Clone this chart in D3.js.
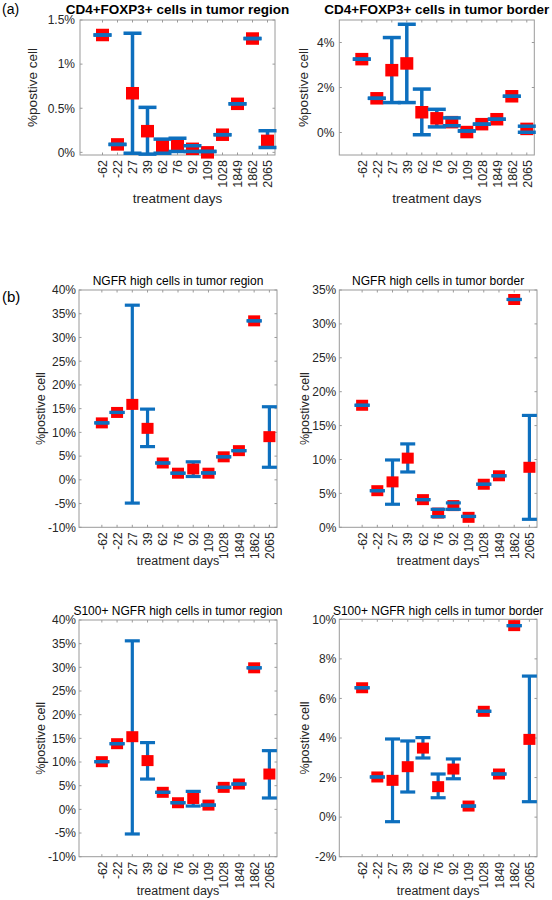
<!DOCTYPE html>
<html><head><meta charset="utf-8">
<script src="https://cdn.jsdelivr.net/npm/d3@7"></script>
<style>body{margin:0;background:#fff}svg{display:block}text{font-family:"Liberation Sans",Arial,Helvetica,sans-serif}</style>
</head><body>
<script>
// ---- data ----
const categories = ["-62","-22","27","39","62","76","92","109","1028","1849","1862","2065"];
const xLabel = "treatment days";
const yLabel = "%postive cell";

// (a) CD4+FOXP3+ region (%)
const aRegionMean  = [1.33,0.09,0.67,0.24,0.075,0.075,0.04,0.0,0.2,0.55,1.29,0.13];
const aRegionLow   = [1.33,0.09,-0.01,-0.02,-0.01,0.01,0.01,0.01,0.2,0.55,1.29,0.055];
const aRegionHigh  = [1.33,0.09,1.35,0.51,0.15,0.16,0.075,0.01,0.2,0.55,1.29,0.245];
const aRegionTicks = [0,0.5,1,1.5];
const aRegionTickLabels = ["0%","0.5%","1%","1.5%"];

// (a) CD4+FOXP3+ border (%)
const aBorderMean  = [3.26,1.52,2.77,3.07,0.9,0.63,0.46,0.02,0.37,0.59,1.61,0.16];
const aBorderLow   = [3.26,1.52,1.33,1.33,-0.1,0.25,0.3,0.07,0.37,0.59,1.61,0.01];
const aBorderHigh  = [3.26,1.52,4.22,4.81,1.93,1.03,0.65,0.07,0.37,0.59,1.61,0.28];
const aBorderTicks = [0,2,4];
const aBorderTickLabels = ["0%","2%","4%"];

// (b) NGFR high region (%)
const bRegionMean  = [12.0,14.2,15.9,10.85,3.55,1.4,2.3,1.4,4.85,6.15,33.5,9.1];
const bRegionLow   = [12.0,14.2,-4.9,7.0,3.55,1.4,0.7,1.45,4.85,6.15,33.5,2.65];
const bRegionHigh  = [12.0,14.2,36.8,14.9,3.55,1.4,3.8,1.45,4.85,6.15,33.5,15.4];
const bRegionTicks = [-10,-5,0,5,10,15,20,25,30,35,40];
const bRegionTickLabels = ["-10%","-5%","0%","5%","10%","15%","20%","25%","30%","35%","40%"];

// (b) NGFR high border (%)
const bBorderMean  = [18.0,5.4,6.7,10.2,4.08,2.1,3.2,1.47,6.35,7.6,33.6,8.85];
const bBorderLow   = [18.0,5.4,3.4,8.16,4.08,1.57,2.65,1.6,6.35,7.6,33.6,1.18];
const bBorderHigh  = [18.0,5.4,9.93,12.3,4.08,2.65,3.6,1.6,6.35,7.6,33.6,16.5];
const bBorderTicks = [0,5,10,15,20,25,30,35];
const bBorderTickLabels = ["0%","5%","10%","15%","20%","25%","30%","35%"];

// (b) S100+ NGFR high region (%)
const cRegionMean  = [10.07,13.87,15.35,10.3,3.6,1.4,2.3,0.9,4.65,5.35,29.9,7.46];
const cRegionLow   = [10.07,13.87,-5.2,6.4,3.6,1.4,0.7,0.9,4.65,5.35,29.9,2.4];
const cRegionHigh  = [10.07,13.87,35.6,14.1,3.6,1.4,3.8,0.9,4.65,5.35,29.9,12.4];
const cRegionTicks = [-10,-5,0,5,10,15,20,25,30,35,40];
const cRegionTickLabels = ["-10%","-5%","0%","5%","10%","15%","20%","25%","30%","35%","40%"];

// (b) S100+ NGFR high border (%)
const cBorderMean  = [6.54,2.03,1.86,2.55,3.49,1.54,2.43,0.56,5.35,2.18,9.68,3.93];
const cBorderLow   = [6.54,2.03,-0.23,1.27,2.99,0.98,1.94,0.56,5.35,2.18,9.68,0.78];
const cBorderHigh  = [6.54,2.03,3.95,3.85,4.02,2.18,2.94,0.56,5.35,2.18,9.68,7.13];
const cBorderTicks = [-2,0,2,4,6,8,10];
const cBorderTickLabels = ["-2%","0%","2%","4%","6%","8%","10%"];

const titles = [
  "CD4+FOXP3+ cells in tumor region","CD4+FOXP3+ cells in tumor border",
  "NGFR high cells in tumor region","NGFR high cells in tumor border",
  "S100+ NGFR high cells in tumor region","S100+ NGFR high cells in tumor border"];
const panelLetters = ["(a)","(b)"];

// ---- layout ----
const W = 552, H = 900;
const svg = d3.select("body").append("svg").attr("width", W).attr("height", H);
const BLUE = "#0d6fbe", RED = "#ff0000", BOX = "#9a9a9a", TXT = "#262626";

const panels = [
  {t:titles[0], mean:aRegionMean, lo:aRegionLow, hi:aRegionHigh, ticks:aRegionTicks, tl:aRegionTickLabels, yd:[-0.03,1.5],
   x0:80, x1:275, y0:20, y1:155, bold:true, tfs:13.5, tby:14, lfs:13.5, xlby:203, ylbx:37, gap:5, xfs:12.5, yfs:12, mw:13, mh:12.5, cw:18, lw:3.5},
  {t:titles[1], mean:aBorderMean, lo:aBorderLow, hi:aBorderHigh, ticks:aBorderTicks, tl:aBorderTickLabels, yd:[-1,5],
   x0:339.3, x1:534.3, y0:20, y1:155, bold:true, tfs:13.5, tby:14, lfs:13.5, xlby:203, ylbx:308, gap:5, xfs:12.5, yfs:12, mw:13, mh:12.5, cw:18, lw:3.5},
  {t:titles[2], mean:bRegionMean, lo:bRegionLow, hi:bRegionHigh, ticks:bRegionTicks, tl:bRegionTickLabels, yd:[-10,40],
   x0:79, x1:277, y0:290, y1:527.3, bold:false, tfs:12, tby:285, lfs:12.5, xlby:565, ylbx:45, gap:3, xfs:12, yfs:12, mw:12, mh:11, cw:15, lw:3.2},
  {t:titles[3], mean:bBorderMean, lo:bBorderLow, hi:bBorderHigh, ticks:bBorderTicks, tl:bBorderTickLabels, yd:[0,35],
   x0:339.3, x1:537, y0:290, y1:527.3, bold:false, tfs:12, tby:285, lfs:12.5, xlby:565, ylbx:309, gap:3, xfs:12, yfs:12, mw:12, mh:11, cw:15, lw:3.2},
  {t:titles[4], mean:cRegionMean, lo:cRegionLow, hi:cRegionHigh, ticks:cRegionTicks, tl:cRegionTickLabels, yd:[-10,40],
   x0:79, x1:277, y0:620, y1:856.7, bold:false, tfs:12, tby:615, lfs:12.5, xlby:895, ylbx:45, gap:3, xfs:12, yfs:12, mw:12, mh:11, cw:15, lw:3.2},
  {t:titles[5], mean:cBorderMean, lo:cBorderLow, hi:cBorderHigh, ticks:cBorderTicks, tl:cBorderTickLabels, yd:[-2,10],
   x0:339.3, x1:537, y0:619.3, y1:856.7, bold:false, tfs:12, tby:615, lfs:12.5, xlby:895, ylbx:309, gap:3, xfs:12, yfs:12, mw:12, mh:11, cw:15, lw:3.2}
];

panels.forEach(p => {
  const idx = d3.range(categories.length);
  const x = d3.scaleLinear().domain([-1.5, 11.5]).range([p.x0, p.x1]);
  const y = d3.scaleLinear().domain(p.yd).range([p.y1, p.y0]);
  const g = svg.append("g");
  const tickLen = 2.5;

  // box
  g.append("rect").attr("x", p.x0).attr("y", p.y0).attr("width", p.x1 - p.x0).attr("height", p.y1 - p.y0)
    .attr("fill", "none").attr("stroke", BOX).attr("stroke-width", 1);

  // y ticks (both sides) + labels
  const ya = d3.axisLeft(y).tickValues(p.ticks).tickSize(0).tickFormat((d,i) => p.tl[i]).tickPadding(p.gap);
  const yg = g.append("g").attr("transform", `translate(${p.x0},0)`).call(ya);
  yg.select(".domain").remove();
  yg.selectAll("text").attr("fill", TXT).style("font-size", p.yfs + "px").style("font-family", '"Liberation Sans",Arial,sans-serif');
  p.ticks.forEach(v => {
    g.append("line").attr("x1", p.x0).attr("x2", p.x0 + tickLen).attr("y1", y(v)).attr("y2", y(v)).attr("stroke", BOX);
    g.append("line").attr("x1", p.x1).attr("x2", p.x1 - tickLen).attr("y1", y(v)).attr("y2", y(v)).attr("stroke", BOX);
  });

  // x ticks (both sides) + rotated labels
  const xa = d3.axisBottom(x).tickValues(idx).tickSize(0).tickFormat(i => categories[i]);
  const xg = g.append("g").attr("transform", `translate(0,${p.y1})`).call(xa);
  xg.select(".domain").remove();
  xg.selectAll("text").attr("fill", TXT).style("font-size", p.xfs + "px").style("font-family", '"Liberation Sans",Arial,sans-serif')
    .attr("text-anchor", "end").attr("transform", "rotate(-90)").attr("x", -5).attr("y", 0).attr("dy", "0.35em");
  idx.forEach(i => {
    g.append("line").attr("x1", x(i)).attr("x2", x(i)).attr("y1", p.y1).attr("y2", p.y1 - tickLen).attr("stroke", BOX);
    g.append("line").attr("x1", x(i)).attr("x2", x(i)).attr("y1", p.y0).attr("y2", p.y0 + tickLen).attr("stroke", BOX);
  });

  // title
  g.append("text").attr("x", (p.x0 + p.x1) / 2).attr("y", p.tby).attr("text-anchor", "middle")
    .style("font-size", p.tfs + "px").style("font-weight", p.bold ? "bold" : "normal").attr("fill", "#000").text(p.t);
  // axis labels
  g.append("text").attr("x", (p.x0 + p.x1) / 2).attr("y", p.xlby).attr("text-anchor", "middle")
    .style("font-size", p.lfs + "px").attr("fill", TXT).text(xLabel);
  g.append("text").attr("transform", `translate(${p.ylbx},${(p.y0 + p.y1) / 2}) rotate(-90)`).attr("text-anchor", "middle")
    .style("font-size", p.lfs + "px").attr("fill", TXT).text(yLabel);

  // error bars: vertical lines
  g.selectAll(".vl").data(idx.filter(i => p.hi[i] !== p.lo[i])).enter().append("line")
    .attr("x1", i => x(i)).attr("x2", i => x(i)).attr("y1", i => y(p.lo[i])).attr("y2", i => y(p.hi[i]))
    .attr("stroke", BLUE).attr("stroke-width", p.lw);
  // markers
  g.selectAll(".mk").data(idx).enter().append("rect")
    .attr("x", i => x(i) - p.mw / 2).attr("y", i => y(p.mean[i]) - p.mh / 2)
    .attr("width", p.mw).attr("height", p.mh).attr("fill", RED);
  // caps
  ["lo", "hi"].forEach(k => {
    g.selectAll(".cap" + k).data(idx).enter().append("line")
      .attr("x1", i => x(i) - p.cw / 2).attr("x2", i => x(i) + p.cw / 2)
      .attr("y1", i => y(p[k][i])).attr("y2", i => y(p[k][i]))
      .attr("stroke", BLUE).attr("stroke-width", p.lw);
  });
});

// panel letters
svg.append("text").attr("x", 2).attr("y", 14).style("font-size", "14px").attr("fill", "#000").text(panelLetters[0]);
svg.append("text").attr("x", 2).attr("y", 302).style("font-size", "15px").attr("fill", "#000").text(panelLetters[1]);
</script>
</body></html>
